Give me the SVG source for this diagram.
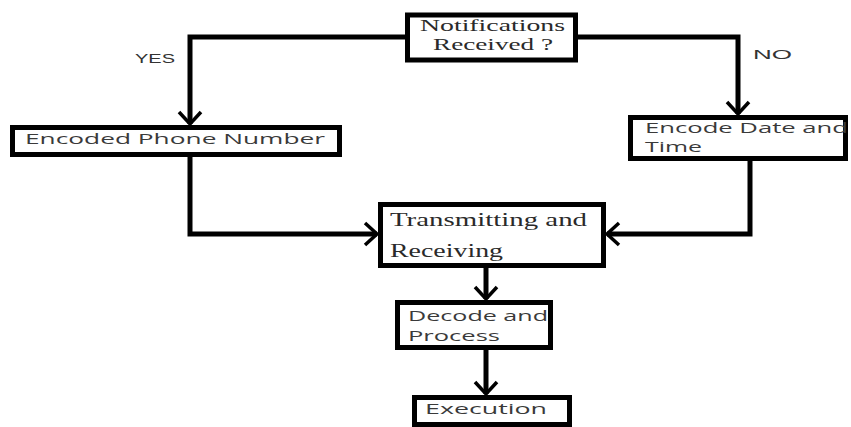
<svg xmlns="http://www.w3.org/2000/svg" width="851" height="427" viewBox="0 0 851 427">
  <style>
    .box { fill: #ffffff; stroke: #000000; stroke-width: 5; }
    .wire { fill: none; stroke: #000000; stroke-width: 5; }
    .sans { font-family: "Open Sans", "Liberation Sans", sans-serif; fill: #3a3a3a; }
    .serif { font-family: "Liberation Serif", "Times New Roman", serif; fill: #2a2a2a; }
    .lbl { font-family: "Liberation Sans", Arial, sans-serif; fill: #333333; font-size: 13px; }
  </style>
  <defs>
    <marker id="arrow" markerUnits="userSpaceOnUse" markerWidth="30" markerHeight="30" viewBox="-20 -15 24 30" refX="0" refY="0" orient="auto">
      <path d="M-12,-11 L0,0 L-12,11" fill="none" stroke="#000000" stroke-width="3.5" stroke-linejoin="miter"/>
    </marker>
  </defs>

  <rect width="851" height="427" fill="#ffffff"/>

  <!-- connectors -->
  <g id="connectors">
    <path class="wire" d="M407,37 H190 V124" marker-end="url(#arrow)"/>
    <path class="wire" d="M576,37 H738 V114" marker-end="url(#arrow)"/>
    <path class="wire" d="M190,157 V234 H377" marker-end="url(#arrow)"/>
    <path class="wire" d="M750,161 V234 H607" marker-end="url(#arrow)"/>
    <path class="wire" d="M486,268 V299" marker-end="url(#arrow)"/>
    <path class="wire" d="M486,350 V394" marker-end="url(#arrow)"/>
    <text class="lbl" x="135" y="63" textLength="40" lengthAdjust="spacingAndGlyphs">YES</text>
    <text class="lbl" x="753" y="59" textLength="39" lengthAdjust="spacingAndGlyphs">NO</text>
  </g>

  <!-- decision: notifications received -->
  <g id="notifications">
    <rect class="box" x="407.5" y="15" width="168" height="45"/>
    <text class="serif" x="420" y="31" font-size="17" textLength="145" lengthAdjust="spacingAndGlyphs">Notifications</text>
    <text class="serif" x="433" y="50" font-size="17" textLength="120" lengthAdjust="spacingAndGlyphs">Received ?</text>
  </g>

  <!-- yes branch -->
  <g id="encoded-phone">
    <rect class="box" x="12.5" y="127.5" width="327" height="27"/>
    <text class="sans" x="25" y="144" font-size="15" textLength="300" lengthAdjust="spacingAndGlyphs">Encoded  Phone Number</text>
  </g>

  <!-- no branch -->
  <g id="encode-date">
    <rect class="box" x="630.5" y="117.5" width="215" height="41"/>
    <text class="sans" x="645" y="133" font-size="15" textLength="203" lengthAdjust="spacingAndGlyphs">Encode Date and</text>
    <text class="sans" x="645" y="152" font-size="15" textLength="57" lengthAdjust="spacingAndGlyphs">Time</text>
  </g>

  <!-- link stage -->
  <g id="transmitting">
    <rect class="box" x="380.5" y="204.5" width="223" height="61"/>
    <text class="serif" x="390" y="226" font-size="19" textLength="197" lengthAdjust="spacingAndGlyphs">Transmitting and</text>
    <text class="serif" x="390" y="257" font-size="19" textLength="113" lengthAdjust="spacingAndGlyphs">Receiving</text>
  </g>

  <g id="decode">
    <rect class="box" x="397.5" y="302.5" width="153" height="45"/>
    <text class="sans" x="408" y="321" font-size="15" textLength="140" lengthAdjust="spacingAndGlyphs">Decode and</text>
    <text class="sans" x="408" y="341" font-size="15" textLength="92" lengthAdjust="spacingAndGlyphs">Process</text>
  </g>

  <g id="execution">
    <rect class="box" x="414.5" y="397.5" width="155" height="27"/>
    <text class="sans" x="425" y="414" font-size="15" textLength="122" lengthAdjust="spacingAndGlyphs">Execution</text>
  </g>
</svg>
